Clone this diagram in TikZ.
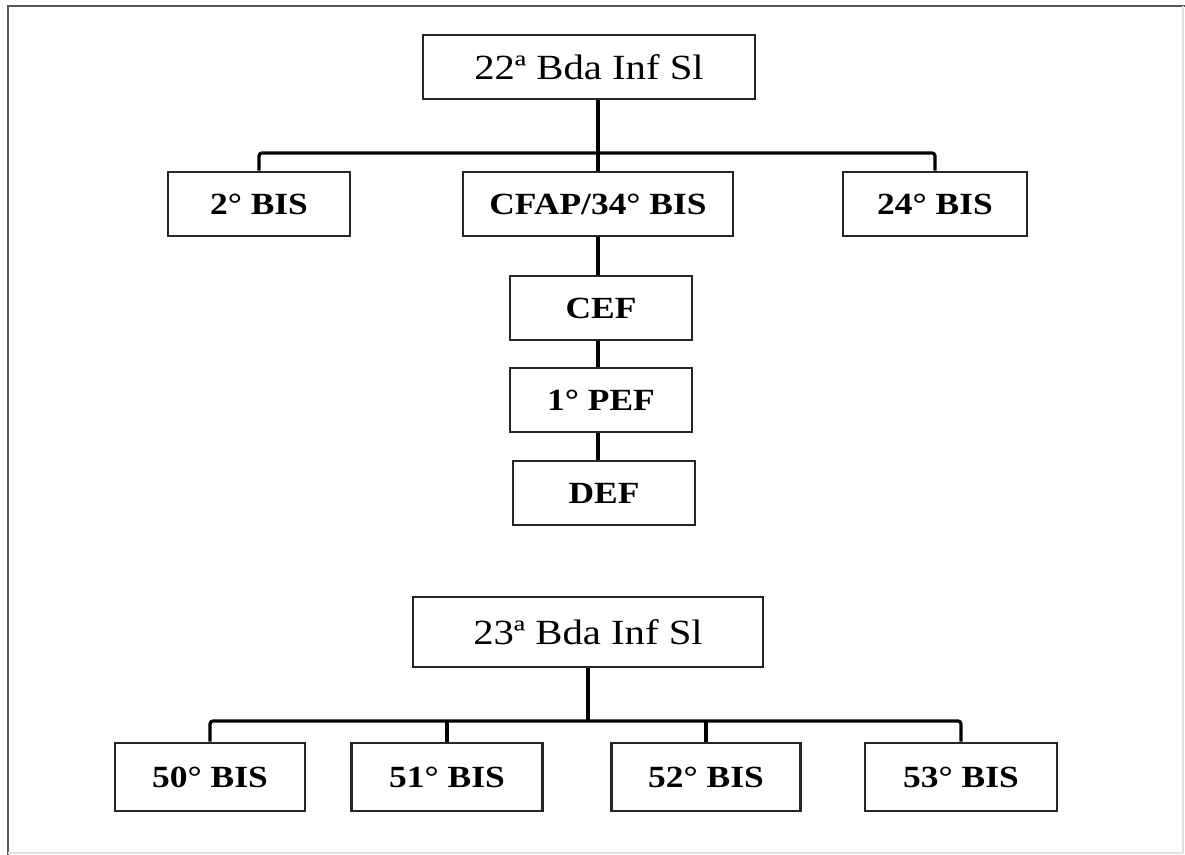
\documentclass[tikz,border=0pt]{standalone}
\usepackage{fontspec}
\setmainfont{Liberation Serif}[FakeStretch=1.15]

\newcommand*{\picw}{1185}
\newcommand*{\pich}{855}
\newcommand*{\barone}{153}
\newcommand*{\bartwo}{721}

\begin{document}
\begin{tikzpicture}
[
	x=0.5pt, y=-0.5pt,
	hqbox/.style={draw=black!85,line width=1.3pt,inner sep=0pt,minimum height=32pt,font=\fontsize{17.7}{20}\selectfont},
	unitbox/.style={draw=black!85,line width=1.3pt,inner sep=0pt,minimum height=32pt,font=\fontsize{15.4}{18}\selectfont\bfseries},
	link/.style={line width=1.6pt,rounded corners=1.5pt}
]
	\useasboundingbox (0,0) rectangle (\picw,\pich);

	% frame
	\draw[black!65,line width=1.2pt] (8,\pich) -- (8,6) -- (\picw,6);
	\draw[black!12,line width=0.6pt] (1183,6) -- (1183,853) -- (8,853);

	% 22a Bda
	\node[hqbox,minimum width=166pt] at (589,67) (bda22) {22ª Bda Inf Sl};
	\node[unitbox,minimum width=91pt] at (259,204) (bis2) {2° BIS};
	\node[unitbox,minimum width=135pt] at (598,204) (cfap) {CFAP/34° BIS};
	\node[unitbox,minimum width=92pt] at (935,204) (bis24) {24° BIS};
	\node[unitbox,minimum width=91pt] at (601,308) (cef) {CEF};
	\node[unitbox,minimum width=91pt] at (601,400) (pef) {1° PEF};
	\node[unitbox,minimum width=91pt] at (604,493) (def) {DEF};

	\coordinate (bar22) at (0,\barone);
	\draw[link] (cfap.north |- bda22.south) -- (cfap.north);
	\draw[link] (bis2.north) -- (bis2.north |- bar22) -- (bis24.north |- bar22) -- (bis24.north);
	\foreach \a/\b in {cfap/cef,cef/pef,pef/def}
		\draw[link] (cfap.south |- \a.south) -- (cfap.south |- \b.north);

	% 23a Bda
	\node[hqbox,minimum width=175pt,minimum height=35pt] at (588,632) (bda23) {23ª Bda Inf Sl};
	\node[unitbox,minimum width=95pt,minimum height=34pt] at (210,777) (bis50) {50° BIS};
	\node[unitbox,minimum width=95.5pt,minimum height=34pt] at (447,777) (bis51) {51° BIS};
	\node[unitbox,minimum width=94.5pt,minimum height=34pt] at (706,777) (bis52) {52° BIS};
	\node[unitbox,minimum width=96pt,minimum height=34pt] at (961,777) (bis53) {53° BIS};

	\coordinate (bar23) at (0,\bartwo);
	\draw[link] (bda23.south) -- (bda23.south |- bar23);
	\draw[link] (bis50.north) -- (bis50.north |- bar23) -- (bis53.north |- bar23) -- (bis53.north);
	\foreach \u in {bis51,bis52}
		\draw[link] (\u.north) -- (\u.north |- bar23);

\end{tikzpicture}
\end{document}
